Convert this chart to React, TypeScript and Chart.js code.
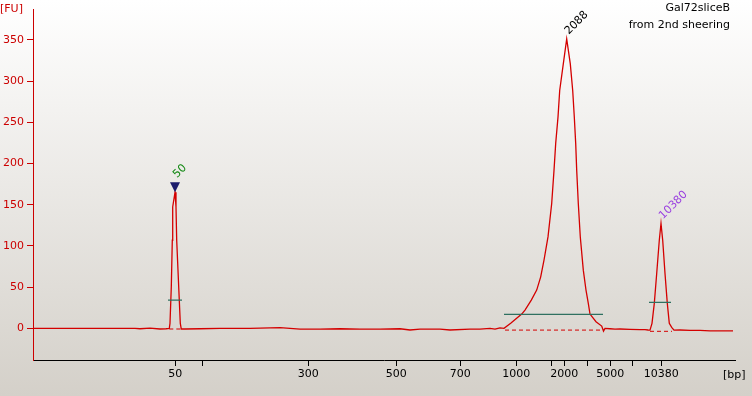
import React, { useEffect, useRef } from 'react';
import { Chart, registerables } from 'chart.js';
Chart.register(...registerables);

// migration time (s) and fluorescence (FU) of the trace
const traceTime = [40.0, 45.0, 50.2, 50.7, 51.7, 52.7, 53.3, 53.63, 53.70, 53.83, 53.93, 53.97, 54.20, 54.30, 54.37, 54.57, 54.73, 54.83, 55.2, 56.7, 58.7, 61.7, 64.7, 66.7, 68.7, 70.7, 72.7, 74.7, 76.7, 77.7, 78.7, 80.7, 81.7, 83.7, 84.7, 85.7, 86.2, 86.7, 87.10, 87.77, 88.87, 89.20, 89.83, 90.37, 90.77, 91.10, 91.50, 91.87, 92.10, 92.27, 92.50, 92.67, 93.03, 93.37, 93.73, 93.97, 94.13, 94.27, 94.37, 94.53, 94.73, 95.03, 95.30, 95.53, 95.70, 96.30, 96.87, 97.05, 97.20, 97.7, 98.2, 98.7, 99.7, 100.7, 101.2, 101.5, 101.70, 101.90, 102.13, 102.37, 102.63, 102.80, 102.97, 103.20, 103.43, 103.63, 103.87, 104.1, 104.7, 105.7, 106.7, 107.7, 108.7, 110.0];
const traceFU = [0, 0, 0, -0.5, 0.3, -0.8, -0.5, 0, 6.1, 50.4, 106.9, 147.3, 165.1, 147.3, 106.9, 50.4, 6.1, -0.8, -0.8, -0.5, 0, 0, 0.8, -1, -1, -0.5, -1, -1, -0.5, -2, -1, -1, -2, -1, -1, 0, -1, 0.5, 0, 6.1, 17.3, 22.2, 34.3, 46.4, 62.5, 82.7, 110.9, 151.4, 191.7, 224.4, 256.3, 288.6, 320.9, 351.2, 320.9, 288.6, 256.3, 224.4, 191.7, 151.4, 110.9, 70.6, 46.4, 30.3, 17.3, 8.0, 2.8, -3.3, 0, -0.5, -1, -0.8, -1.2, -1.5, -1.5, -2, -2.1, 6.1, 30.3, 66.6, 106.9, 127.2, 106.9, 66.6, 30.3, 6.1, 1.2, -2.1, -2, -2.5, -2.5, -3, -3, -3];

// x axis: ladder positions (time) and bp labels
const xTickTimes = [54.23, 56.93, 67.53, 76.33, 82.73, 88.33, 91.83, 93.13, 95.43, 97.73, 99.93, 102.83];
const xTickLabels = ['50', '', '300', '500', '700', '1000', '', '2000', '', '5000', '', '10380'];
const yTicks = [0, 50, 100, 150, 200, 250, 300, 350];

// peaks
const peakTimes = [54.2, 93.37, 102.8];
const peakFU = [165.1, 351.2, 127.2];
const peakLabels = ['50', '2088', '10380'];
const peakLabelColors = ['#118811', '#000000', '#9a3fe0'];
const peakMarker = [true, false, false];

// peak baselines (dashed) and region bars (green)
const baseStart = [53.63, 87.2, 101.7];
const baseEnd = [54.83, 97.1, 103.9];
const baseFU = [-0.8, -2.1, -3.6];
const barStart = [53.5, 87.1, 101.6];
const barEnd = [54.9, 97.0, 103.8];
const barFU = [34.3, 17.0, 31.5];

const titleLines = ['Gal72sliceB', 'from 2nd sheering'];

const FONT = '11px "DejaVu Sans"';

const decor = {
  id: 'decor',
  beforeDraw(chart: any) {
    const { ctx, width, height } = chart;
    const g = ctx.createLinearGradient(0, 0, 0, height);
    g.addColorStop(0, '#ffffff');
    g.addColorStop(1, '#d4d0c9');
    ctx.save();
    ctx.fillStyle = g;
    ctx.fillRect(0, 0, width, height);
    ctx.restore();
  },
  afterDatasetsDraw(chart: any) {
    const { ctx } = chart;
    const xs = chart.scales.x;
    const ys = chart.scales.y;
    ctx.save();
    ctx.font = FONT;
    for (let i = 0; i < peakTimes.length; i++) {
      const px = xs.getPixelForValue(peakTimes[i]);
      const py = ys.getPixelForValue(peakFU[i]);
      let off = 0;
      if (peakMarker[i]) {
        ctx.fillStyle = '#1c1c6c';
        ctx.beginPath();
        ctx.moveTo(px, py);
        ctx.lineTo(px - 5, py - 10);
        ctx.lineTo(px + 5, py - 10);
        ctx.closePath();
        ctx.fill();
        off = 10;
      }
      ctx.save();
      ctx.translate(px + 2, py - 4 - off);
      ctx.rotate(-Math.PI / 4);
      ctx.fillStyle = peakLabelColors[i];
      ctx.textAlign = 'left';
      ctx.textBaseline = 'alphabetic';
      ctx.fillText(peakLabels[i], 0, 0);
      ctx.restore();
    }
    ctx.fillStyle = '#000';
    ctx.textAlign = 'right';
    ctx.textBaseline = 'middle';
    ctx.fillText(titleLines[0], 730, 8);
    ctx.fillText(titleLines[1], 730, 25);
    ctx.fillStyle = '#cc0000';
    ctx.textAlign = 'left';
    ctx.fillText('[FU]', 0, 9);
    ctx.fillStyle = '#000';
    ctx.fillText('[bp]', 723, 375);
    ctx.restore();
  },
};

export default function App() {
  const ref = useRef<HTMLCanvasElement>(null);
  useEffect(() => {
    if (!ref.current) return;
    const segs = (s: number[], e: number[], v: number[], i: number) => [
      { x: s[i], y: v[i] },
      { x: e[i], y: v[i] },
    ];
    const datasets: any[] = [];
    for (let i = 0; i < baseStart.length; i++) {
      datasets.push({
        data: segs(baseStart, baseEnd, baseFU, i),
        borderColor: '#d40000',
        borderWidth: 1,
        borderDash: [4, 3],
        pointRadius: 0,
        order: 3,
      });
      datasets.push({
        data: segs(barStart, barEnd, barFU, i),
        borderColor: '#2f7060',
        borderWidth: 1.2,
        pointRadius: 0,
        order: 1,
      });
    }
    datasets.push({
      data: traceTime.map((t, i) => ({ x: t, y: traceFU[i] })),
      borderColor: '#d40000',
      borderWidth: 1.3,
      pointRadius: 0,
      tension: 0,
      order: 2,
    });
    const chart = new Chart(ref.current, {
      type: 'line',
      data: { datasets },
      plugins: [decor],
      options: {
        animation: false,
        responsive: false,
        devicePixelRatio: 1,
        layout: { padding: { top: 9, right: 17, left: 0, bottom: 0 } },
        plugins: { legend: { display: false }, tooltip: { enabled: false } },
        scales: {
          x: {
            type: 'linear',
            min: 40,
            max: 110.2,
            afterBuildTicks: (s: any) => {
              s.ticks = xTickTimes.map((v) => ({ value: v }));
            },
            afterFit: (s: any) => {
              s.height = 36;
            },
            ticks: {
              autoSkip: false,
              maxRotation: 0,
              minRotation: 0,
              padding: 2,
              color: '#000',
              font: { family: 'DejaVu Sans', size: 11 },
              callback: (v: any) => {
                const i = xTickTimes.indexOf(Number(v));
                return i >= 0 ? xTickLabels[i] : '';
              },
            },
            grid: { drawOnChartArea: false, drawTicks: true, tickLength: 6, color: '#000' },
            border: { color: '#000', width: 1 },
          },
          y: {
            type: 'linear',
            min: -38.4,
            max: 386.7,
            afterBuildTicks: (s: any) => {
              s.ticks = yTicks.map((v) => ({ value: v }));
            },
            afterFit: (s: any) => {
              s.width = 33;
            },
            ticks: {
              padding: 3,
              color: '#cc0000',
              font: { family: 'DejaVu Sans', size: 11 },
            },
            grid: { drawOnChartArea: false, drawTicks: true, tickLength: 6, color: '#cc0000' },
            border: { color: '#cc0000', width: 1 },
          },
        },
      } as any,
    });
    return () => chart.destroy();
  }, []);
  return (
    <canvas
      ref={ref}
      width={752}
      height={396}
      style={{ position: 'fixed', left: 0, top: 0, width: 752, height: 396, display: 'block' }}
    />
  );
}
